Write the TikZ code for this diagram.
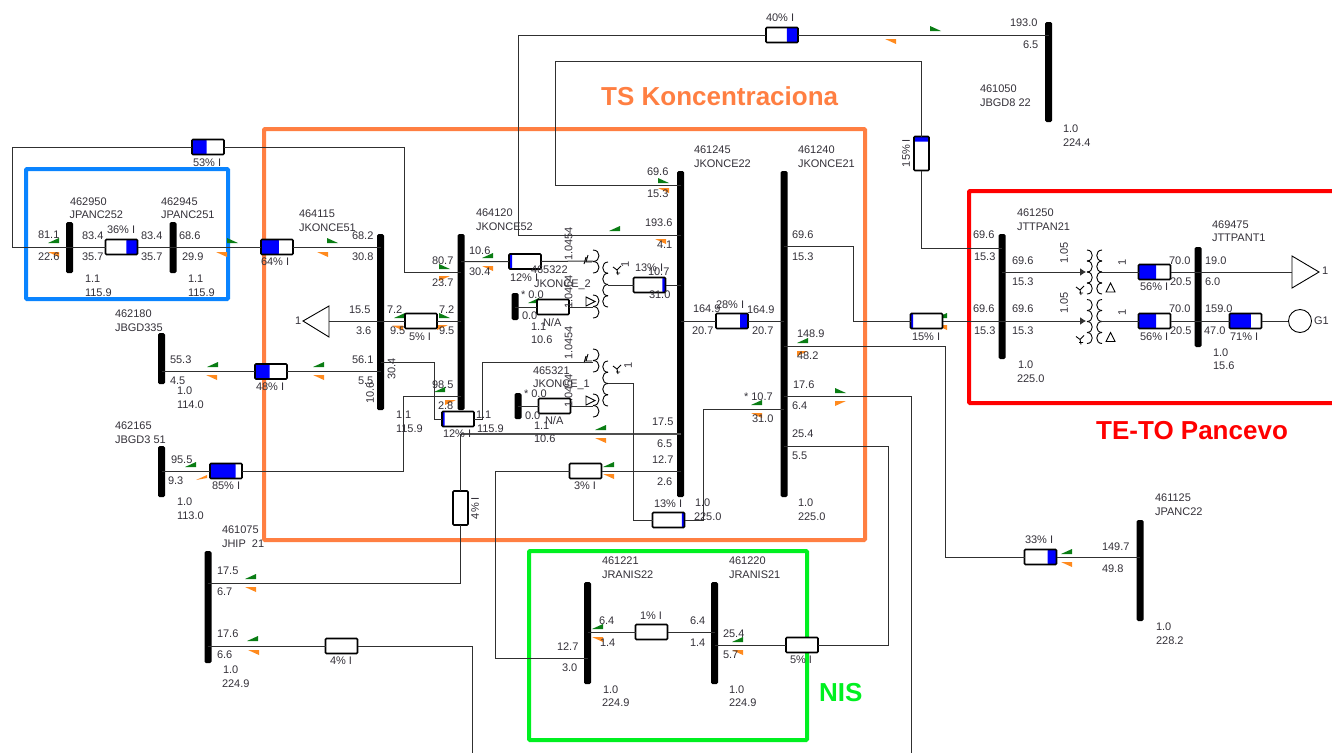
\documentclass[tikz,border=0pt]{standalone}
\usepackage{fontspec}
\setmainfont{Liberation Sans}
\usetikzlibrary{calc,arrows.meta}
\definecolor{frO}{HTML}{FF7F42}
\definecolor{frB}{HTML}{0A84FF}
\definecolor{frG}{HTML}{00F020}
\definecolor{frR}{HTML}{FF0000}
\definecolor{flG}{HTML}{0A7D14}
\definecolor{flO}{HTML}{FF8A1E}
\definecolor{txt}{HTML}{333038}
\definecolor{wirec}{HTML}{303030}
\tikzset{
  frame/.style={draw=#1,line width=4pt,rounded corners=1pt},
  wire/.style={draw=wirec,line width=1pt},
  wirethick/.style={draw=wirec!85,line width=1.5pt},
  thin coil/.style={draw=black,line width=0.9pt},
  busbar/.style={fill=black,inner sep=0pt,outer sep=0pt,rounded corners=1.5pt,minimum width=7pt},
  meterbox/.style={draw=black,fill=white,line width=1.7pt,rounded corners=1pt,inner sep=0pt,outer sep=0pt},
  hm/.style 2 args={meterbox,minimum width=32pt,minimum height=15pt,
    path picture={\fill[blue] ($(path picture bounding box.north west)!#1!(path picture bounding box.north east)$) rectangle ($(path picture bounding box.south west)!#2!(path picture bounding box.south east)$);}},
  vm/.style={meterbox,minimum width=15pt,minimum height=34pt,
    path picture={\fill[blue] (path picture bounding box.north west) rectangle ($(path picture bounding box.north east)!#1!(path picture bounding box.south east)$);}},
  lbl/.style={text=txt,inner sep=0pt,outer sep=0pt,anchor=west,font=\fontsize{11}{12}\selectfont},
  rl/.style={text=txt,inner sep=0pt,outer sep=0pt,anchor=center,rotate=90,font=\fontsize{11}{12}\selectfont},
  ttl/.style={inner sep=0pt,anchor=west,font=\fontsize{26}{28}\selectfont\bfseries},
}
\newcounter{tn}
\newcommand\lb[3]{\stepcounter{tn}\node[lbl] (t\arabic{tn}) at (#1,#2) {#3};}
\newcommand\rb[3]{\stepcounter{tn}\node[rl] (t\arabic{tn}) at (#1,#2) {#3};}
\newcommand\gL[2]{\fill[flG] (#1,#2) -- ({#1+11},#2) -- ({#1+11},{#2-5}) -- cycle;}
\newcommand\gR[2]{\fill[flG] (#1,#2) -- ({#1+11},#2) -- (#1,{#2-5}) -- cycle;}
\newcommand\oL[2]{\fill[flO] (#1,#2) -- ({#1+11},#2) -- ({#1+11},{#2+5}) -- cycle;}
\newcommand\oR[2]{\fill[flO] (#1,#2) -- ({#1+11},#2) -- (#1,{#2+5}) -- cycle;}
\newcommand\oU[2]{\fill[flO] (#1,{#2+5}) -- ({#1+11},#2) -- ({#1+11},{#2+3}) -- cycle;}
\newcommand\bus[4]{\node[busbar,minimum height={#4-#3}] (#1) at (#2,{(#3+#4)/2}) {};}
\newcommand\mh[5]{\node[hm={#4}{#5}] (#1) at (#2,#3) {};}
\newcommand\coil[5]{\foreach \k in {1,...,#3}{\draw[thin coil] (#1,{#2+(\k-1)*#4}) .. controls ({#1+#5},{#2+(\k-1)*#4}) and ({#1+#5},{#2+\k*#4}) .. (#1,{#2+\k*#4});}}
\newcommand\wye[2]{\draw[thin coil] (#1,#2) -- ({#1-4},{#2-3}) (#1,#2) -- ({#1+1},{#2+5}) (#1,#2) -- ({#1+4},{#2-4}) ({#1-1},{#2+3}) -- ({#1+3},{#2+3});}
\begin{document}
\begin{tikzpicture}[x=1pt,y=-1pt]
\useasboundingbox (0,0) rectangle (1332,753);
% frames
\draw[frame=frO] (264,129) rectangle (865,540);
\draw[frame=frB] (26,169) rectangle (228,299);
\draw[frame=frG] (529,551) rectangle (807,740);
\draw[frame=frR] (1340,191) -- (969,191) -- (969,403) -- (1340,403);
% flags
\gL{48}{243}\oL{48}{252}\gR{227}{243}\oL{216}{252}\gR{327}{243}\oL{317}{252}
\gL{207}{367}\oL{206}{375}\gL{313}{367}\oL{313}{375}
\gL{185}{467}\oU{196}{475}
\gL{394}{318}\oL{392}{325.5}\gR{439}{318}\oR{437}{325}
\gR{439}{269}\oR{439}{276}\gL{482}{258}\oL{482}{266}
\gL{609}{231}\oL{655}{239}\gL{528}{303}
\gL{434}{392}\oR{445}{400}\gL{595}{430}\oL{595}{438}
\gL{603}{467}\oL{603}{474}
\gR{658}{183}\oL{658}{188}
\gL{936}{318}\oL{936}{325}
\gL{797}{343}\oR{797}{351}\gL{751}{405}\oL{751}{413}
\gR{835}{393}\oR{835}{401}
\gR{930}{31}\oL{885}{39}
\gL{1061}{554}\oL{1061}{562}
\gL{592}{629}\oL{592}{637}\gL{732}{642}\oL{732}{650}
\gL{245}{579}\oL{245}{587}\gL{247}{641}\oL{248}{650}
% buses
\bus{b950}{69.5}{222}{273}
\bus{b945}{173}{222}{273}
\bus{b115}{380.5}{234}{410}
\bus{b120}{461}{234}{410}
\bus{b245}{680.5}{171}{497}
\bus{b240}{784}{171}{497}
\bus{b050}{1048.5}{22}{122}
\bus{b250}{1002}{234}{359}
\bus{b475}{1198}{247}{347}
\bus{b125}{1140}{520}{621}
\bus{b180}{161.5}{333}{384}
\bus{b165}{161.5}{446}{497}
\bus{b075}{208}{551}{663}
\bus{b221}{587.5}{582}{684}
\bus{b220}{714.5}{582}{684}
\bus{b322}{515}{293}{320}
\bus{b321}{518}{393}{419}
% meters
\mh{m53}{208}{147}{0}{0.46}
\mh{m36}{121.5}{247}{0.65}{1}
\mh{m64}{277}{247}{0}{0.56}
\mh{m48}{271}{371.5}{0}{0.46}
\mh{m85}{226}{471}{0}{0.8}
\mh{m5a}{421}{321}{0}{0}
\mh{m12a}{525}{261.5}{0}{0.1}
\mh{m13a}{649.5}{285}{0.9}{1}
\mh{mna}{553}{307}{0}{0}
\mh{mnb}{554.5}{406}{0}{0}
\mh{m12b}{458}{419}{0}{0.08}
\mh{m3}{585.5}{471}{0}{0}
\mh{m13b}{668.5}{520}{0.92}{1}
\mh{m28}{732}{321}{0.75}{1}
\mh{m15a}{926.5}{321}{0}{0.08}
\mh{m40}{782}{35}{0.65}{1}
\mh{m56a}{1154.5}{272}{0}{0.55}
\mh{m56b}{1154.5}{321}{0}{0.55}
\mh{m71}{1245.5}{321}{0}{0.67}
\mh{m33}{1040.5}{557}{0.72}{1}
\mh{m4c}{341.5}{646}{0}{0}
\mh{m1}{651.5}{632}{0}{0}
\mh{m5b}{802}{645}{0}{0}
\node[vm=0.15] (m15v) at (921.5,153.5) {};
\node[vm=0] (m4v) at (460.5,508) {};
% transformers
\coordinate (t1a) at (593,261); \coordinate (t1b) at (593,307); \coordinate (t1c) at (608,285);
\coordinate (t2a) at (593,362); \coordinate (t2b) at (593,406); \coordinate (t2c) at (608,383);
\foreach \dy in {0,99}{
 \begin{scope}[shift={(0,\dy)}]
 \coil{593}{250}{2}{11.5}{8}
 \coil{593}{295}{2}{11.5}{8}
 \coil{608}{262}{4}{11.25}{-7}
 \wye{617}{270}
 \draw[thin coil] (588,255) -- (586,262) -- (592,262) (586,257) -- (584,264);
 \draw[thin coil,fill=white] (586,297) -- (586,306) -- (595,301.5) -- cycle;
 \end{scope}
}
\coordinate (t3a) at (1086,272); \coordinate (t3b) at (1101,272);
\coordinate (t4a) at (1086,321); \coordinate (t4b) at (1101,321);
\foreach \dy in {0,49.5}{
 \begin{scope}[shift={(0,\dy)}]
 \coil{1087}{250}{4}{11}{7}
 \coil{1102}{250}{4}{11}{-7}
 \wye{1080}{290}
 \draw[thin coil] (1106,292) -- (1115,292) -- (1110.5,283) -- cycle;
 \end{scope}
}
% loads and generator
\node[draw=black,line width=0.9pt,fill=white,inner sep=0pt,minimum size=0pt] (g1) at (1300,321) [circle,minimum size=23pt] {};
\path (329,321) coordinate (la) (303,321) coordinate (lt);
\draw[thin coil] (329,306) -- (329,337) -- (lt) -- cycle;
\path (1292,272) coordinate (ra);
\draw[thin coil] (1292,256) -- (1292,288) -- (1319,272) -- cycle;
% connectors
\draw[wire] (m53.west) -- (12,147) -- (12,247) -- (m36.west);
\draw[wire] (m36.east) -- (m64.west);
\draw[wire] (m64.east) -- (b115 |- m64);
\draw[wire] (m53.east) -- (404,147) -- (404,272) -- (b120 |- 0,272);
\draw[wire] (b180 |- m48) -- (m48.west) (m48.east) -- (b115 |- m48);
\draw[wire] (b165 |- m85) -- (m85.west) (m85.east) -- (403,471) -- (403,396) -- (b120 |- 0,396);
\draw[wire] (b115 |- 0,362) -- (434,362) -- (434,419) -- (m12b.west);
\draw[wire] (m12b.east) -- (482,419) -- (482,362) -- (t2a);
\draw[wirethick] (460.5,434) -- (b245 |- 0,434);
\draw[wire] (460.5,434) -- (m4v.north) (m4v.south) -- (460.5,583) -- (b075 |- 0,583);
\draw[wire] (b075 |- m4c) -- (m4c.west) (m4c.east) -- (472,646) -- (472,753);
\draw[wire] (b245 |- m3) -- (m3.east) (m3.west) -- (495,471) -- (495,658) -- (b221 |- 0,658);
\draw[wire] (b221 |- m1) -- (m1.west) (m1.east) -- (b220 |- m1);
\draw[wire] (b220 |- m5b) -- (m5b.west) (m5b.east) -- (888,645) -- (888,446) -- (b240 |- 0,446);
\draw[wire] (b240 |- 0,396) -- (911,396) -- (911,753);
\draw[wire] (b240 |- 0,346) -- (945,346) -- (945,557) -- (m33.west) (m33.east) -- (b125 |- m33);
\draw[wire] (b240 |- 0,409) -- (703,409) -- (703,520) -- (m13b.east);
\draw[wire] (m13b.west) -- (633,520) -- (633,383) -- (t2c);
\draw[wire] (b245 |- m13a) -- (m13a.east) (m13a.west) -- (t1c);
\draw[wire] (b120 |- m12a) -- (m12a.west) (m12a.east) -- (t1a);
\draw[wire] (b322 |- mna) -- (mna.west) (mna.east) -- (t1b);
\draw[wire] (b321 |- mnb) -- (mnb.west) (mnb.east) -- (t2b);
\draw[wire] (b245 |- 0,235) -- (518,235) -- (518,35) -- (m40.west) (m40.east) -- (b050 |- m40);
\draw[wire] (b245 |- 0,185) -- (555,185) -- (555,61) -- (921.5,61) -- (m15v.north) (m15v.south) -- (921.5,248) -- (b250 |- 0,248);
\draw[wire] (b245 |- m28) -- (m28.west) (m28.east) -- (b240 |- m28);
\draw[wire] (b240 |- 0,246) -- (853,246) -- (853,321) -- (m15a.west) (m15a.east) -- (b250 |- m15a);
\draw[wire] (b115 |- la) -- (la);
\draw[wire] (b115 |- m5a) -- (m5a.west) (m5a.east) -- (b120 |- m5a);
\draw[wire,-{Latex[length=6pt,width=8pt]}] (b250 |- m56a) -- (t3a);
\draw[wire,-{Latex[length=6pt,width=8pt]}] (b250 |- m56b) -- (t4a);
\draw[wire] (t3b) -- (m56a.west) (m56a.east) -- (b475 |- m56a);
\draw[wire] (t4b) -- (m56b.west) (m56b.east) -- (b475 |- m56b);
\draw[wire] (b475 |- ra) -- (ra);
\draw[wire] (b475 |- m71) -- (m71.west) (m71.east) -- (g1.west);
% titles
\node[ttl,text=frO] (ttsk) at (601,96) {TS Koncentraciona};
\node[ttl,text=frR] (tteto) at (1096,431) {TE-TO Pancevo};
\node[ttl,text=frG] (tnis) at (819,693) {NIS};
% labels
\lb{193}{163}{53\% I}\lb{70}{201.5}{462950}\lb{69.5}{215}{JPANC252}
\lb{161}{201.5}{462945}\lb{161}{215}{JPANC251}
\lb{38}{235}{81.1}\lb{38}{257}{22.6}\lb{82}{235.5}{83.4}\lb{82}{257}{35.7}
\lb{107}{230}{36\% I}\lb{141}{235.5}{83.4}\lb{141}{257}{35.7}
\lb{179}{235.5}{68.6}\lb{182}{257}{29.9}
\lb{85}{279}{1.1}\lb{85}{293}{115.9}\lb{188}{279}{1.1}\lb{188}{293}{115.9}
\lb{261}{262}{64\% I}\lb{299}{214}{464115}\lb{299}{228}{JKONCE51}
\lb{352}{236}{68.2}\lb{352}{257}{30.8}\lb{476}{213}{464120}\lb{476}{227}{JKONCE52}
\lb{115}{314}{462180}\lb{115}{328}{JBGD335}
\lb{170}{359.5}{55.3}\lb{170}{381}{4.5}\lb{177}{390.5}{1.0}\lb{177}{404.5}{114.0}
\lb{256}{387}{48\% I}\lb{352}{359.5}{56.1}\lb{358}{381}{5.5}
\rb{370}{393}{10.6}\rb{391.5}{369}{30.4}
\lb{349}{310}{15.5}\lb{356}{331}{3.6}\lb{387}{310}{7.2}\lb{390}{331}{9.5}\lb{409}{337}{5\% I}
\lb{295}{321}{1}\lb{115}{426}{462165}\lb{115}{440}{JBGD3 51}
\lb{171}{460}{95.5}\lb{168}{481}{9.3}\lb{212}{486}{85\% I}\lb{177}{502}{1.0}\lb{177}{516}{113.0}
\lb{396}{415}{1.1}\lb{396}{429}{115.9}
\lb{439}{310}{7.2}\lb{439}{331}{9.5}\lb{432}{261}{80.7}\lb{432}{283}{23.7}
\lb{469}{251}{10.6}\lb{469}{272}{30.4}\lb{510}{278}{12\% I}
\lb{531}{270}{465322}\lb{534}{285}{JKONCE\_2}\lb{521}{295}{* 0.0}\lb{522}{316}{0.0}
\lb{543}{323}{N/A}\lb{531}{327}{1.1}\lb{531}{340}{10.6}
\rb{568.5}{244}{1.0454}\rb{568.5}{292}{1.0454}\rb{568.5}{343}{1.0454}\rb{568.5}{391}{1.0454}
\lb{635}{268}{13\% I}\lb{648}{272}{10.7}\lb{649}{295}{31.0}
\rb{625}{264}{1}\rb{628}{365}{1}
\lb{693}{309}{164.9}\lb{692}{331}{20.7}\lb{716}{305}{28\% I}\lb{747}{309.5}{164.9}\lb{752}{331}{20.7}
\lb{432}{385}{98.5}\lb{438}{406}{2.8}\lb{476}{415}{1.1}\lb{477}{429}{115.9}\lb{443}{434}{12\% I}
\lb{533}{371}{465321}\lb{533}{385}{JKONCE\_1}\lb{524}{394}{* 0.0}\lb{525}{416}{0.0}
\lb{545}{421}{N/A}\lb{534}{426}{1.1}\lb{534}{439}{10.6}
\lb{652}{422}{17.5}\lb{657}{444}{6.5}\lb{652}{460}{12.7}\lb{657}{482}{2.6}
\lb{574}{486}{3\% I}\lb{654}{504}{13\% I}\lb{695}{503}{1.0}\lb{694}{517}{225.0}
\rb{475}{508}{4\% I}
\lb{694}{150}{461245}\lb{694}{164}{JKONCE22}\lb{798}{150}{461240}\lb{798}{164}{JKONCE21}
\lb{647}{172}{69.6}\lb{647}{194}{15.3}\lb{645}{223}{193.6}\lb{657}{245}{4.1}
\lb{792}{235}{69.6}\lb{792}{257}{15.3}\lb{797}{334}{148.9}\lb{797}{356}{48.2}
\lb{744}{397}{* 10.7}\lb{752}{419}{31.0}\lb{793}{385}{17.6}\lb{792}{406}{6.4}
\lb{792}{434}{25.4}\lb{792}{456}{5.5}\lb{798}{503}{1.0}\lb{798}{517}{225.0}
\lb{912}{337}{15\% I}
\lb{1017}{213}{461250}\lb{1017}{227}{JTTPAN21}\lb{1212}{225}{469475}\lb{1212}{238}{JTTPANT1}
\lb{973}{235}{69.6}\lb{974}{257}{15.3}\lb{1012}{261}{69.6}\lb{1012}{282}{15.3}
\lb{973}{309}{69.6}\lb{974}{331}{15.3}\lb{1012}{309}{69.6}\lb{1012}{331}{15.3}
\lb{1018}{365}{1.0}\lb{1017}{379}{225.0}
\rb{1064}{253}{1.05}\rb{1064}{303}{1.05}\rb{1122}{262}{1}\rb{1122}{312}{1}
\lb{1169}{261}{70.0}\lb{1170}{282}{20.5}\lb{1169}{309}{70.0}\lb{1170}{331}{20.5}
\lb{1140}{287}{56\% I}\lb{1140}{337}{56\% I}
\lb{1205}{261}{19.0}\lb{1205}{282}{6.0}\lb{1205}{309}{159.0}\lb{1204}{331}{47.0}
\lb{1230}{337}{71\% I}\lb{1213}{353}{1.0}\lb{1213}{366}{15.6}
\lb{1322}{271}{1}\lb{1314}{321}{G1}
\lb{1010}{23}{193.0}\lb{1023}{45}{6.5}\lb{980}{89}{461050}\lb{980}{103}{JBGD8 22}
\lb{1063}{129}{1.0}\lb{1063}{143}{224.4}\lb{766}{18}{40\% I}
\rb{906}{153}{15\% I}
\lb{1155}{498}{461125}\lb{1155}{512}{JPANC22}\lb{1025}{540}{33\% I}
\lb{1102}{547}{149.7}\lb{1102}{569}{49.8}\lb{1156}{627}{1.0}\lb{1156}{641}{228.2}
\lb{602}{561}{461221}\lb{602}{575}{JRANIS22}\lb{729}{561}{461220}\lb{729}{575}{JRANIS21}
\lb{599}{621}{6.4}\lb{600}{643}{1.4}\lb{640}{616}{1\% I}\lb{690}{621}{6.4}\lb{690}{643}{1.4}
\lb{723}{634}{25.4}\lb{723}{655}{5.7}\lb{557}{646.5}{12.7}\lb{562}{668}{3.0}\lb{790}{660}{5\% I}
\lb{603}{690}{1.0}\lb{602}{703}{224.9}\lb{729}{690}{1.0}\lb{729}{703}{224.9}
\lb{222}{530}{461075}\lb{222}{544}{JHIP\ \ 21}
\lb{217}{571}{17.5}\lb{217}{592}{6.7}\lb{217}{634}{17.6}\lb{217}{655}{6.6}
\lb{223}{670}{1.0}\lb{222}{684}{224.9}\lb{330}{661}{4\% I}
\end{tikzpicture}
\end{document}
